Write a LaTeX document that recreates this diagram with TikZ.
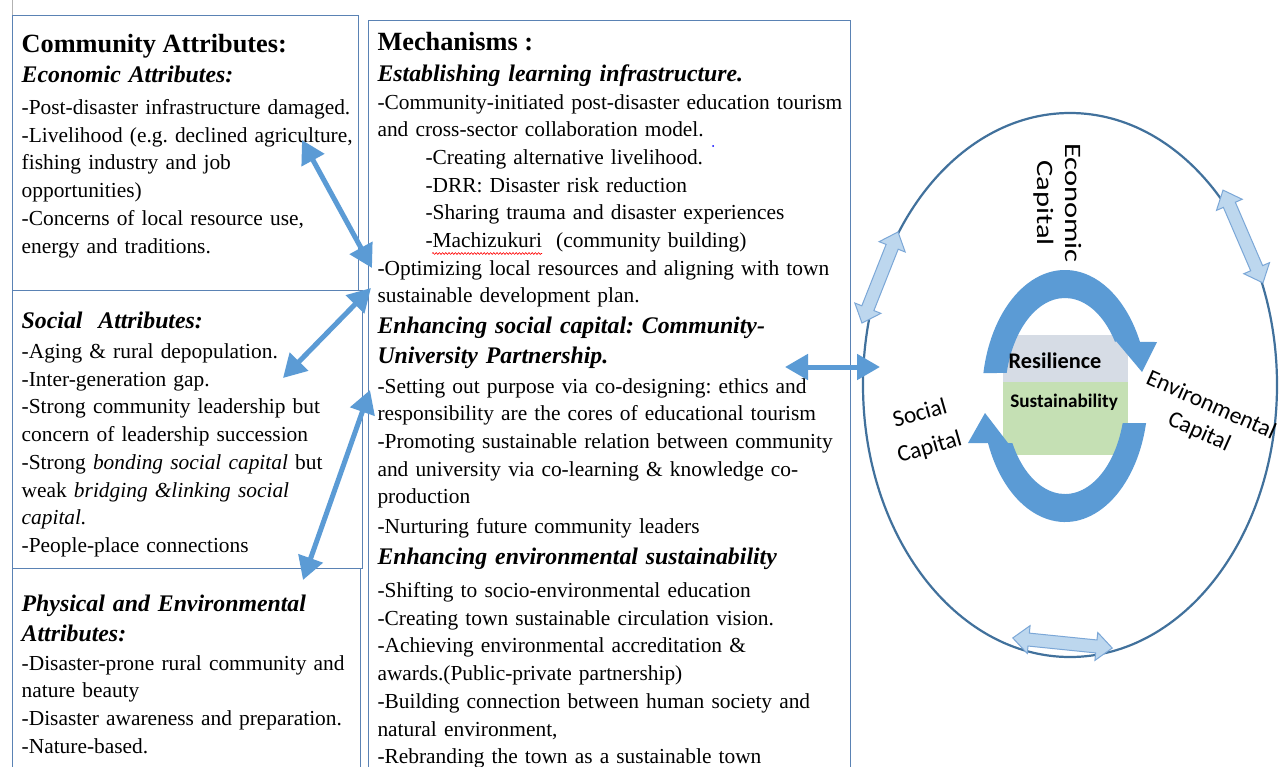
\documentclass[tikz,border=0pt]{standalone}
\usepackage{fontspec}
\usepackage{graphicx}
\setmainfont{Liberation Serif}
\newfontfamily\carl{Carlito}
\usetikzlibrary{arrows.meta,calc,decorations.pathmorphing}
\frenchspacing

\definecolor{boxc}{HTML}{5A82B4}
\definecolor{arr}{HTML}{5B9BD5}
\definecolor{ell}{HTML}{41719C}
\definecolor{lt}{HTML}{BDD7EE}
\definecolor{ltd}{HTML}{7BA7D7}
\definecolor{resg}{HTML}{D6DCE5}
\definecolor{susg}{HTML}{C5E0B4}

\tikzset{
  boxn/.style={draw=boxc, line width=1.2pt, inner sep=0pt, anchor=north west},
  ttl/.style={anchor=base west, inner sep=0pt, font=\fontsize{26.3}{30}\selectfont\bfseries},
  hd/.style={anchor=base west, inner sep=0pt, text width=#1, align=left,
             font=\frenchspacing\fontsize{23.8}{30}\selectfont\bfseries\itshape},
  hd/.default=470pt,
  bd/.style={anchor=base west, inner sep=0pt, text width=#1, align=left,
             font=\frenchspacing\fontsize{21.4}{27.7}\selectfont},
  bd/.default=470pt,
  link/.style={draw=arr, line width=5pt,
     {Triangle[length=23pt,width=25pt]}-{Triangle[length=23pt,width=25pt]}},
  ring/.style={fill=arr},
  ltarrow/.style={fill=lt, draw=ltd, line width=1pt, line join=miter},
  caplabel/.style={inner sep=0pt, align=center}
}

\begin{document}
\begin{tikzpicture}[x=1pt,y=-1pt]
\path[use as bounding box, fill=white] (0,0) rectangle (1285,766);

% frames
\draw[gray!60, line width=0.8pt] (12,0) -- (12,15);
\node[boxn, minimum width=346pt, minimum height=275pt] (econbox) at (12,15) {};
\node[boxn, minimum width=350pt, minimum height=278pt] (socbox) at (12,290) {};
\node[boxn, minimum width=348pt, minimum height=215pt] (physbox) at (12,568) {};
\node[boxn, minimum width=482pt, minimum height=760pt] (mechbox) at (368,20) {};

% left column texts
\node[ttl] (ttlcomm) at (21.5,52) {Community Attributes:};
\node[hd=340pt] (hecon) at (21.5,82) {Economic Attributes:};
\node[bd=345pt] (becon) at (21.5,114.5) {-Post-disaster infrastructure damaged.\\
-Livelihood (e.g. declined agriculture,\\
fishing industry and job\\
opportunities)\\
-Concerns of local resource use,\\
energy and traditions.};

\node[hd=340pt] (hsoc) at (21.5,328) {Social\ \ Attributes:};
\node[bd=345pt] (bsoc) at (21.5,358.5) {-Aging \& rural depopulation.\\
-Inter-generation gap.\\
-Strong community leadership but\\
concern of leadership succession\\
-Strong \textit{bonding social capital} but\\
weak \textit{bridging \&linking social}\\
\textit{capital.}\\
-People-place connections};

\node[hd=340pt] (hphys) at (21.5,611.5) {Physical and Environmental\\Attributes:};
\node[bd=345pt] (bphys) at (21.5,670) {-Disaster-prone rural community and\\
nature beauty\\
-Disaster awareness and preparation.\\
-Nature-based.};

% mechanisms texts
\node[ttl] (ttlmech) at (377.3,50) {Mechanisms :};
\node[hd] (hm1) at (377.3,81) {Establishing learning infrastructure.};
\node[bd] (bm1) at (377.3,109) {-Community-initiated post-disaster education tourism\\
and cross-sector collaboration model.\\
\hspace*{48pt}-Creating alternative livelihood.\\
\hspace*{48pt}-DRR: Disaster risk reduction\\
\hspace*{48pt}-Sharing trauma and disaster experiences\\
\hspace*{48pt}-Machizukuri\ \ (community building)\\
-Optimizing local resources and aligning with town\\
sustainable development plan.};
\draw[red, line width=0.6pt, decorate, decoration={snake, amplitude=0.9pt, segment length=3.2pt}]
  (432,253.5) -- (542,253.5);
\fill[blue] (713,146) circle (1);

\node[hd] (hm2) at (377.3,333.5) {Enhancing social capital: Community-\\University Partnership.};
\node[bd] (bm2) at (377.3,393) {-Setting out purpose via co-designing: ethics and\\
responsibility are the cores of educational tourism\\
-Promoting sustainable relation between community\\
and university via co-learning \& knowledge co-\\
production\\[2pt]
-Nurturing future community leaders};

\node[hd] (hm3) at (377.3,564) {Enhancing environmental sustainability};
\node[bd] (bm3) at (377.3,597.5) {-Shifting to socio-environmental education\\
-Creating town sustainable circulation vision.\\
-Achieving environmental accreditation \&\\
awards.(Public-private partnership)\\
-Building connection between human society and\\
natural environment,\\
-Rebranding the town as a sustainable town};

% big ellipse
\draw[ell, line width=2.2pt] (1070,385) ellipse [x radius=207, y radius=272];

% center boxes
\node[fill=resg, inner sep=0pt, anchor=north west, minimum width=125pt, minimum height=47pt] (resbox) at (1003,335) {};
\node[fill=susg, inner sep=0pt, anchor=north west, minimum width=125pt, minimum height=73pt] (susbox) at (1003,382) {};

% cycle arrows
\coordinate (rc) at (1065,396);
\fill[ring] ($(rc)+(190.5:83 and 126)$) arc[start angle=190.5, end angle=334.6, x radius=83, y radius=126]
  -- (1157,342) -- (1142,372) -- (1116,341)
  -- ($(rc)+(326.6:60 and 98)$) arc[start angle=326.6, end angle=193.6, x radius=60, y radius=98] -- cycle;
\fill[ring] ($(rc)+(12.4:83 and 126)$) arc[start angle=12.4, end angle=158.1, x radius=83, y radius=126]
  -- (968,443) -- (985,413) -- (1008,443)
  -- ($(rc)+(151.3:60 and 98)$) arc[start angle=151.3, end angle=16.0, x radius=60, y radius=98] -- cycle;

\node[anchor=base, inner sep=0pt, font=\carl\bfseries\fontsize{22.3}{26}\selectfont] (restxt) at (1055,368) {Resilience};
\node[anchor=base, inner sep=0pt, font=\carl\bfseries\fontsize{19.2}{23}\selectfont] (sustxt) at (1064,407) {Sustainability};

% capital labels
\node[caplabel, rotate=-90, font=\carl\fontsize{23.5}{28}\selectfont] (econcap) at (1058,203)
  {\scalebox{1.3}[1]{Economic}\\\scalebox{1.3}[1]{Capital}};
\node[caplabel, rotate=16, font=\carl\fontsize{23.5}{35}\selectfont] (soccap) at (925,431) {Social\\Capital};
\node[caplabel, rotate=-24, font=\carl\fontsize{23.5}{29}\selectfont] (envcap) at (1205,419) {Environmental\\Capital};

% light double arrows on the ellipse
\begin{scope}[shift={(880,277.5)}, rotate=68.4]
  \path[ltarrow] (-49,0) -- (-33,-14) -- (-33,-6.5) -- (33,-6.5) -- (33,-14) -- (49,0)
    -- (33,14) -- (33,6.5) -- (-33,6.5) -- (-33,14) -- cycle;
\end{scope}
\begin{scope}[shift={(1243,236.5)}, rotate=-66.7]
  \path[ltarrow] (-50.5,0) -- (-34.5,-14) -- (-34.5,-6.5) -- (34.5,-6.5) -- (34.5,-14) -- (50.5,0)
    -- (34.5,14) -- (34.5,6.5) -- (-34.5,6.5) -- (-34.5,14) -- cycle;
\end{scope}
\begin{scope}[shift={(1062.5,643)}, rotate=-5.8]
  \path[ltarrow] (-50,0) -- (-34,-14) -- (-34,-6.5) -- (34,-6.5) -- (34,-14) -- (50,0)
    -- (34,14) -- (34,6.5) -- (-34,6.5) -- (-34,14) -- cycle;
\end{scope}

% connectors
\coordinate (a1s) at (302,140);
\coordinate (a1e) at (372,268);
\coordinate (a2s) at (283,378);
\coordinate (a2e) at (371,288);
\coordinate (a3s) at (303,580);
\coordinate (a3e) at (370,390);
\coordinate (m1) at (785,367);
\coordinate (m2) at (880,367);
\draw[link] (a1s) -- (a1e);
\draw[link] (a2s) -- (a2e);
\draw[link] (a3s) -- (a3e);
\draw[link] (m1) -- (m2);
\end{tikzpicture}
\end{document}
